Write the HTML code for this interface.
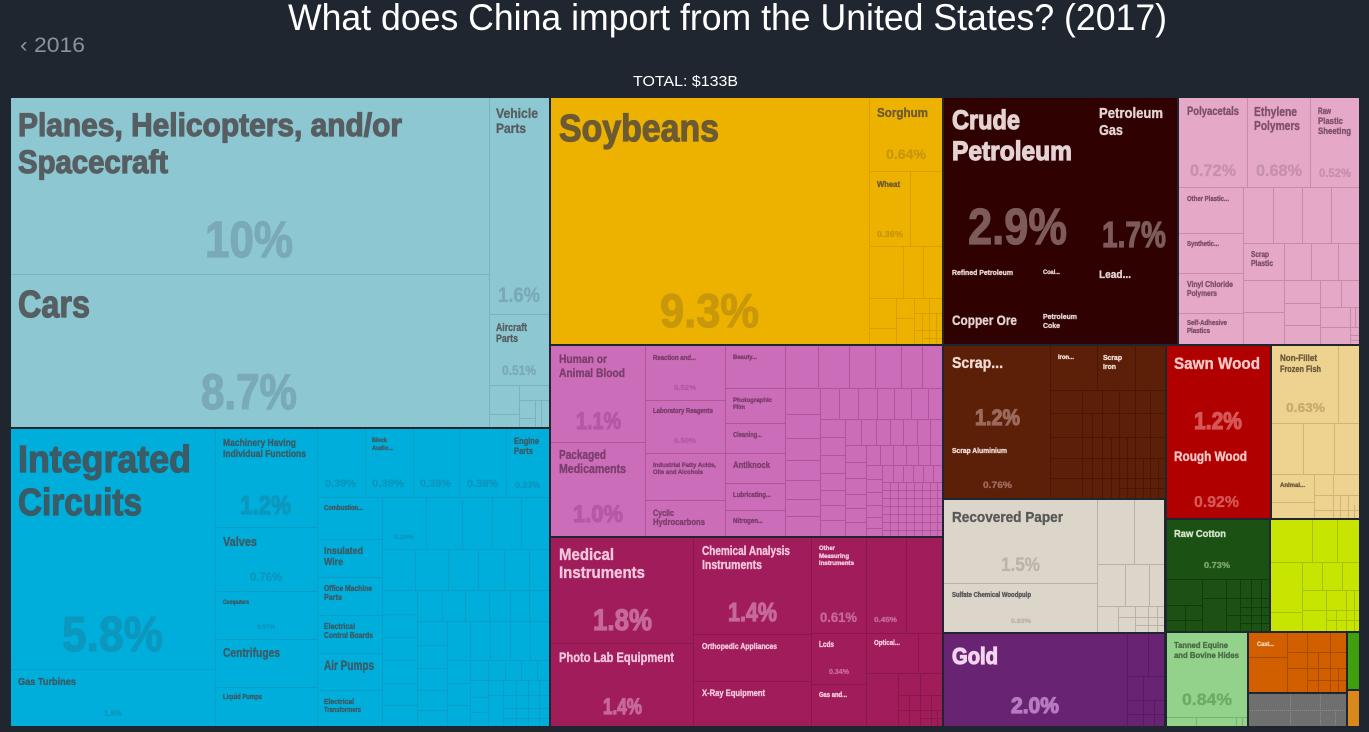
<!DOCTYPE html>
<html><head><meta charset="utf-8"><style>
html,body{margin:0;padding:0;background:#1f2630;width:1369px;height:732px;overflow:hidden}
svg{display:block}
.t{font-family:"Liberation Sans",sans-serif}
.b{font-family:"Liberation Sans",sans-serif;font-weight:700}
.k text{stroke-width:0.35}
.k text.L{stroke-width:1.2}
</style></head><body>
<svg width="1369" height="732" viewBox="0 0 1369 732" xmlns="http://www.w3.org/2000/svg">
<rect width="1369" height="732" fill="#1f2630"/>
<text class="t" x="288" y="30" font-size="37" fill="#ffffff" textLength="879" lengthAdjust="spacingAndGlyphs">What does China import from the United States? (2017)</text>
<text class="t" x="20" y="52" font-size="21" fill="#8b929a" textLength="65" lengthAdjust="spacingAndGlyphs">‹ 2016</text>
<text class="t" x="633" y="86" font-size="15" fill="#ffffff" textLength="105" lengthAdjust="spacingAndGlyphs">TOTAL: $133B</text>

<!-- fills -->
<rect x="10" y="97" width="540" height="331" fill="#8dc8d2"/>
<rect x="10" y="428" width="540" height="299" fill="#00aedb"/>
<rect x="550" y="97" width="393" height="248" fill="#edb200"/>
<rect x="943" y="97" width="235" height="248" fill="#2f0101"/>
<rect x="1179" y="97" width="181" height="248" fill="#e5a8c6"/>
<rect x="550" y="345" width="393" height="192" fill="#cc6db9"/>
<rect x="550" y="537" width="393" height="190" fill="#a01c5a"/>
<rect x="943" y="345" width="223" height="154" fill="#5c1f08"/>
<rect x="944" y="500" width="221" height="133" fill="#dcd5ca"/>
<rect x="944" y="633" width="221" height="94" fill="#692373"/>
<rect x="1166" y="345" width="105" height="174" fill="#b00000"/>
<rect x="1272" y="345" width="88" height="174" fill="#eed390"/>
<rect x="1166" y="519" width="104" height="113" fill="#1b5214"/>
<rect x="1270" y="519" width="90" height="113" fill="#c8e502"/>
<rect x="1166" y="632" width="82" height="95" fill="#93d28a"/>
<rect x="1248" y="632" width="99" height="61" fill="#d15f00"/>
<rect x="1248" y="693" width="99" height="34" fill="#6f6f6f"/>
<rect x="1347" y="632" width="13" height="58" fill="#3fa00f"/>
<rect x="1347" y="690" width="13" height="37" fill="#d9891c"/>

<!-- internal lines -->
<g fill="none" stroke-width="1">
<path stroke="#79b3be" d="M10 274.5H489M489.5 97V428M489 314.5H550M489 385.5H550M519.5 385V428M489 414.5H519M519 400.5H550M535.5 400V428M519 418.5H535M541.5 400V428"/>
<path stroke="#0d9dc6" d="M215.5 428V727M10 669.5H215M317.5 428V727M215 527.5H317M215 591.5H317M215 639.5H317M215 687.5H317M317 497.5H550M365.5 428V497M413.5 428V497M459.5 428V497M506.5 428V497M382.5 497V727M317 539.5H382M317 577.5H382M317 615.5H382M317 653.5H382M317 690.5H382M382 549.5H550M426.5 497V549M462.5 497V549M492.5 497V549M521.5 497V549M382 590.5H550M415.5 549V590M448.5 549V590M478.5 549V590M504.5 549V590M529.5 549V590M417.5 590V727M382 614.5H417M382 637.5H417M382 660.5H417M382 683.5H417M382 705.5H417M417 621.5H550M442.5 590V621M465.5 590V621M489.5 590V621M510.5 590V621M529.5 590V621M447.5 621V727M417 645.5H447M417 668.5H447M417 690.5H447M417 710.5H447M447 660.5H550M470.5 621V660M490.5 621V660M510.5 621V660M530.5 621V660M470.5 660V727M447 683.5H470M447 705.5H470M470 680.5H550M488.5 660V680M505.5 660V680M521.5 660V680M537.5 660V680M488.5 680V727M470 697.5H488M470 712.5H488M488 695.5H550M503.5 680V727M516.5 680V727M528.5 680V727M539.5 680V727M503 708.5H550M503 718.5H550"/>
<path stroke="#d6a100" d="M869.5 97V345M869 171.5H943M910.5 171V246M869 246.5H943M903.5 246V298M923.5 246V298M869 298.5H943M896.5 298V345M869 328.5H896M914.5 298V345M896 318.5H914M929.5 298V345M914 313.5H943M914 330.5H943M922.5 313V345M936.5 313V345M922 338.5H943"/>
<path stroke="#c88ca9" d="M1179 187.5H1360M1247.5 97V187M1310.5 97V187M1243.5 187V345M1179 233.5H1243M1179 273.5H1243M1179 313.5H1243M1243 243.5H1360M1273.5 187V243M1302.5 187V243M1331.5 187V243M1284.5 243V345M1243 280.5H1284M1243 312.5H1284M1284 280.5H1360M1311.5 243V280M1338.5 243V280M1320.5 280V345M1284 303.5H1320M1284 325.5H1320M1341.5 280V307M1320 307.5H1360M1350.5 307V345M1320 327.5H1360M1350 335.5H1360M1350 340.5H1360M1355.5 307V327"/>
<path stroke="#b0569d" d="M645.5 345V537M550 442.5H645M725.5 345V537M645 400.5H725M645 453.5H725M645 500.5H725M785.5 345V537M725 388.5H785M725 423.5H785M725 453.5H785M725 483.5H785M725 510.5H785M785 388.5H943M818.5 345V388M849.5 345V388M875.5 345V388M901.5 345V388M922.5 345V388M820.5 388V537M785 414.5H820M785 438.5H820M785 460.5H820M785 480.5H820M785 499.5H820M785 516.5H820M820 419.5H943M839.5 388V419M858.5 388V419M877.5 388V419M894.5 388V419M911.5 388V419M928.5 388V419M845.5 419V537M820 437.5H845M820 455.5H845M820 473.5H845M820 490.5H845M820 505.5H845M820 520.5H845M845 445.5H943M861.5 419V445M876.5 419V445M890.5 419V445M903.5 419V445M917.5 419V445M930.5 419V445M866.5 445V537M845 462.5H866M845 478.5H866M845 494.5H866M845 508.5H866M845 522.5H866M866 465.5H943M880.5 445V465M893.5 445V465M906.5 445V465M918.5 445V465M930.5 445V465M882.5 465V537M866 479.5H882M866 492.5H882M866 505.5H882M866 517.5H882M866 528.5H882M882 482.5H943M893.5 465V482M903.5 465V482M913.5 465V482M923.5 465V482M933.5 465V482M890.5 482V537M898.5 482V537M906.5 482V537M914.5 482V537M922.5 482V537M930.5 482V537M937.5 482V537M882 490.5H943M882 498.5H943M882 506.5H943M882 514.5H943M882 522.5H943M882 530.5H943"/>
<path stroke="#881848" d="M693.5 537V727M550 643.5H693M693 634.5H811M693 681.5H811M811.5 537V727M866.5 537V727M906.5 537V633M811 633.5H943M811 684.5H866M918.5 633V673M866 673.5H943M898.5 673V727M920.5 673V727M898 695.5H943M898 710.5H943M931.5 695V727M909.5 695V727M920 718.5H943M937.5 710V727"/>
<path stroke="#4a1605" d="M1050.5 345V498M1050 390.5H1166M1097.5 345V390M1135.5 345V390M1050 413.5H1166M1050 437.5H1166M1050 458.5H1166M1050 478.5H1166M1082.5 390V498M1102.5 390V498M1119.5 390V498M1135.5 390V498M1150.5 390V498M1092.5 413V498M1111.5 437V498M1127.5 437V498M1143.5 458V498M1158.5 458V498M1119 488.5H1166"/>
<path stroke="#bab2a6" d="M1097.5 500V633M944 583.5H1097M1097 564.5H1165M1134.5 500V564M1125.5 564V606M1149.5 564V606M1097 606.5H1165M1118.5 606V633M1135.5 606V633M1148.5 606V633M1157.5 606V633M1118 617.5H1165M1135 625.5H1165"/>
<path stroke="#581a62" d="M1127.5 633V727M1127 676.5H1165M1148.5 633V676M1127 700.5H1165M1143.5 676V727M1154.5 700V727M1127 714.5H1165"/>
<path stroke="#d2b576" d="M1338.5 345V423M1272 423.5H1360M1303.5 423V474M1334.5 423V474M1272 474.5H1360M1314.5 474V519M1272 502.5H1314M1314 495.5H1360M1333.5 474V519M1348.5 495V519M1314 510.5H1360M1340.5 495V519M1354.5 505V519"/>
<path stroke="#0f3d09" d="M1166 579.5H1270M1202.5 579V632M1226.5 579V632M1166 605.5H1202M1202 598.5H1270M1240.5 579V632M1251.5 579V632M1261.5 579V632M1226 615.5H1270M1240 607.5H1270M1240 623.5H1270M1166 620.5H1202M1185.5 605V632"/>
<path stroke="#a6c200" d="M1312.5 519V562M1337.5 519V562M1270 562.5H1360M1302.5 562V632M1270 612.5H1302M1322.5 562V590M1342.5 562V590M1302 590.5H1360M1326.5 590V632M1346.5 590V632M1302 610.5H1360M1326 620.5H1360M1336.5 610V632M1354.5 590V632"/>
<path stroke="#76b56d" d="M1166 717.5H1248M1196.5 717V727M1236.5 717V727M1242.5 717V727"/>
<path stroke="#a84b00" d="M1287.5 632V693M1248 657.5H1287M1307.5 632V693M1330.5 632V693M1287 652.5H1347M1287 668.5H1347M1307 680.5H1347M1318.5 652V693M1338.5 668V693"/>
<path stroke="#8c8c8c" stroke-dasharray="1 1" d="M1290.5 694V727M1320.5 694V727M1248 710.5H1347M1335.5 710V727"/>
</g>

<!-- group borders -->
<g fill="none" stroke="#1f2630" stroke-width="2">
<rect x="10" y="97" width="540" height="331"/>
<rect x="10" y="428" width="540" height="299"/>
<rect x="550" y="97" width="393" height="248"/>
<rect x="943" y="97" width="235" height="248"/>
<rect x="1178" y="97" width="182" height="248"/>
<rect x="550" y="345" width="393" height="192"/>
<rect x="550" y="537" width="393" height="190"/>
<rect x="943" y="345" width="223" height="154"/>
<rect x="943" y="499" width="222" height="134"/>
<rect x="943" y="633" width="222" height="94"/>
<rect x="1166" y="345" width="105" height="174"/>
<rect x="1271" y="345" width="89" height="174"/>
<rect x="1166" y="519" width="104" height="113"/>
<rect x="1270" y="519" width="90" height="113"/>
<rect x="1166" y="632" width="82" height="95"/>
<rect x="1248" y="632" width="99" height="61"/>
<rect x="1248" y="693" width="99" height="34"/>
<rect x="1347" y="632" width="13" height="58"/>
<rect x="1347" y="690" width="13" height="37"/>
</g>

<g class="b k" font-weight="bold">
<!-- transport -->
<g fill="#565e62" stroke="#565e62">
<text class="L" x="18" y="136" font-size="32" textLength="384" lengthAdjust="spacingAndGlyphs">Planes, Helicopters, and/or</text>
<text class="L" x="18" y="173" font-size="32" textLength="150" lengthAdjust="spacingAndGlyphs">Spacecraft</text>
<text class="L" x="18" y="317" font-size="38" textLength="72" lengthAdjust="spacingAndGlyphs">Cars</text>
<text x="496" y="118" font-size="14" textLength="42" lengthAdjust="spacingAndGlyphs">Vehicle</text>
<text x="496" y="133" font-size="14" textLength="30" lengthAdjust="spacingAndGlyphs">Parts</text>
<text x="496" y="331" font-size="11" textLength="31" lengthAdjust="spacingAndGlyphs">Aircraft</text>
<text x="496" y="342" font-size="11" textLength="22" lengthAdjust="spacingAndGlyphs">Parts</text>
</g>
<g fill="#79aab5" stroke="#79aab5">
<text class="L" x="205" y="257" font-size="51" textLength="88" lengthAdjust="spacingAndGlyphs">10%</text>
<text class="L" x="201" y="409" font-size="50" textLength="96" lengthAdjust="spacingAndGlyphs">8.7%</text>
<text x="498" y="302" font-size="21" textLength="42" lengthAdjust="spacingAndGlyphs">1.6%</text>
<text x="502" y="375" font-size="14" textLength="34" lengthAdjust="spacingAndGlyphs">0.51%</text>
</g>
<!-- machinery -->
<g fill="#3b5b66" stroke="#3b5b66">
<text class="L" x="18" y="472" font-size="38" textLength="173" lengthAdjust="spacingAndGlyphs">Integrated</text>
<text class="L" x="18" y="515" font-size="38" textLength="124" lengthAdjust="spacingAndGlyphs">Circuits</text>
<text x="18" y="685" font-size="10" textLength="58" lengthAdjust="spacingAndGlyphs">Gas Turbines</text>
<text x="223" y="446" font-size="10" textLength="73" lengthAdjust="spacingAndGlyphs">Machinery Having</text>
<text x="223" y="457" font-size="10" textLength="83" lengthAdjust="spacingAndGlyphs">Individual Functions</text>
<text x="223" y="546" font-size="12.5" textLength="34" lengthAdjust="spacingAndGlyphs">Valves</text>
<text x="223" y="604" font-size="6" textLength="26" lengthAdjust="spacingAndGlyphs">Computers</text>
<text x="223" y="657" font-size="13" textLength="57" lengthAdjust="spacingAndGlyphs">Centrifuges</text>
<text x="223" y="699" font-size="7" textLength="39" lengthAdjust="spacingAndGlyphs">Liquid Pumps</text>
<text x="372" y="442" font-size="6" textLength="15" lengthAdjust="spacingAndGlyphs">Block</text>
<text x="372" y="450" font-size="6" textLength="21" lengthAdjust="spacingAndGlyphs">Audio...</text>
<text x="514" y="444" font-size="9.5" textLength="25" lengthAdjust="spacingAndGlyphs">Engine</text>
<text x="514" y="454" font-size="9.5" textLength="19" lengthAdjust="spacingAndGlyphs">Parts</text>
<text x="324" y="510" font-size="7" textLength="39" lengthAdjust="spacingAndGlyphs">Combustion...</text>
<text x="324" y="554" font-size="10.5" textLength="39" lengthAdjust="spacingAndGlyphs">Insulated</text>
<text x="324" y="565" font-size="10.5" textLength="19" lengthAdjust="spacingAndGlyphs">Wire</text>
<text x="324" y="591" font-size="8" textLength="48" lengthAdjust="spacingAndGlyphs">Office Machine</text>
<text x="324" y="600" font-size="8" textLength="18" lengthAdjust="spacingAndGlyphs">Parts</text>
<text x="324" y="629" font-size="8" textLength="31" lengthAdjust="spacingAndGlyphs">Electrical</text>
<text x="324" y="638" font-size="8" textLength="49" lengthAdjust="spacingAndGlyphs">Control Boards</text>
<text x="324" y="670" font-size="13.5" textLength="50" lengthAdjust="spacingAndGlyphs">Air Pumps</text>
<text x="324" y="704" font-size="7" textLength="30" lengthAdjust="spacingAndGlyphs">Electrical</text>
<text x="324" y="712" font-size="7" textLength="37" lengthAdjust="spacingAndGlyphs">Transformers</text>
</g>
<g fill="#0c97be" stroke="#0c97be">
<text class="L" x="62" y="651" font-size="49" textLength="101" lengthAdjust="spacingAndGlyphs">5.8%</text>
<text x="104" y="716" font-size="8" textLength="18" lengthAdjust="spacingAndGlyphs">1.6%</text>
<text class="L" x="240" y="514" font-size="26" textLength="51" lengthAdjust="spacingAndGlyphs">1.2%</text>
<text x="250" y="581" font-size="12" textLength="32" lengthAdjust="spacingAndGlyphs">0.76%</text>
<text x="257" y="629" font-size="6" textLength="18" lengthAdjust="spacingAndGlyphs">0.57%</text>
<text x="325" y="487" font-size="11" textLength="31" lengthAdjust="spacingAndGlyphs">0.39%</text>
<text x="372" y="487" font-size="11" textLength="32" lengthAdjust="spacingAndGlyphs">0.39%</text>
<text x="420" y="487" font-size="11" textLength="31" lengthAdjust="spacingAndGlyphs">0.38%</text>
<text x="467" y="487" font-size="11" textLength="31" lengthAdjust="spacingAndGlyphs">0.38%</text>
<text x="515" y="488" font-size="9" textLength="25" lengthAdjust="spacingAndGlyphs">0.33%</text>
<text x="394" y="539" font-size="6" textLength="20" lengthAdjust="spacingAndGlyphs">0.28%</text>
</g>
<!-- soy -->
<g fill="#6c5a33" stroke="#6c5a33">
<text class="L" x="559" y="141" font-size="38" textLength="160" lengthAdjust="spacingAndGlyphs">Soybeans</text>
<text x="877" y="117" font-size="13" textLength="51" lengthAdjust="spacingAndGlyphs">Sorghum</text>
<text x="877" y="187" font-size="8" textLength="23" lengthAdjust="spacingAndGlyphs">Wheat</text>
</g>
<g fill="#c9980a" stroke="#c9980a">
<text class="L" x="660" y="327" font-size="47" textLength="99" lengthAdjust="spacingAndGlyphs">9.3%</text>
<text x="886" y="159" font-size="14" textLength="40" lengthAdjust="spacingAndGlyphs">0.64%</text>
<text x="877" y="237" font-size="8" textLength="26" lengthAdjust="spacingAndGlyphs">0.36%</text>
</g>
<!-- crude -->
<g fill="#e5d2d2" stroke="#e5d2d2">
<text class="L" x="952" y="129" font-size="27" textLength="68" lengthAdjust="spacingAndGlyphs">Crude</text>
<text class="L" x="952" y="160" font-size="27" textLength="120" lengthAdjust="spacingAndGlyphs">Petroleum</text>
<text x="1099" y="118" font-size="15" textLength="64" lengthAdjust="spacingAndGlyphs">Petroleum</text>
<text x="1099" y="135" font-size="15" textLength="24" lengthAdjust="spacingAndGlyphs">Gas</text>
<text x="952" y="275" font-size="7.5" textLength="61" lengthAdjust="spacingAndGlyphs">Refined Petroleum</text>
<text x="1043" y="274" font-size="6.5" textLength="17" lengthAdjust="spacingAndGlyphs">Coal...</text>
<text x="1099" y="278" font-size="11" textLength="32" lengthAdjust="spacingAndGlyphs">Lead...</text>
<text x="952" y="325" font-size="13.5" textLength="65" lengthAdjust="spacingAndGlyphs">Copper Ore</text>
<text x="1043" y="319" font-size="7.5" textLength="34" lengthAdjust="spacingAndGlyphs">Petroleum</text>
<text x="1043" y="328" font-size="7.5" textLength="17" lengthAdjust="spacingAndGlyphs">Coke</text>
</g>
<g fill="#7e5b5b" stroke="#7e5b5b">
<text class="L" x="968" y="244" font-size="51" textLength="99" lengthAdjust="spacingAndGlyphs">2.9%</text>
<text class="L" x="1102" y="247" font-size="36" textLength="64" lengthAdjust="spacingAndGlyphs">1.7%</text>
</g>
<!-- plastics -->
<g fill="#7d5068" stroke="#7d5068">
<text x="1187" y="115" font-size="11.5" textLength="52" lengthAdjust="spacingAndGlyphs">Polyacetals</text>
<text x="1254" y="116" font-size="13" textLength="43" lengthAdjust="spacingAndGlyphs">Ethylene</text>
<text x="1254" y="130" font-size="13" textLength="46" lengthAdjust="spacingAndGlyphs">Polymers</text>
<text x="1318" y="114" font-size="9.5" textLength="13" lengthAdjust="spacingAndGlyphs">Raw</text>
<text x="1318" y="124" font-size="9.5" textLength="25" lengthAdjust="spacingAndGlyphs">Plastic</text>
<text x="1318" y="134" font-size="9.5" textLength="33" lengthAdjust="spacingAndGlyphs">Sheeting</text>
<text x="1187" y="201" font-size="7" textLength="42" lengthAdjust="spacingAndGlyphs">Other Plastic...</text>
<text x="1187" y="246" font-size="7" textLength="32" lengthAdjust="spacingAndGlyphs">Synthetic...</text>
<text x="1251" y="257" font-size="8" textLength="18" lengthAdjust="spacingAndGlyphs">Scrap</text>
<text x="1251" y="266" font-size="8" textLength="22" lengthAdjust="spacingAndGlyphs">Plastic</text>
<text x="1187" y="287" font-size="8" textLength="46" lengthAdjust="spacingAndGlyphs">Vinyl Chloride</text>
<text x="1187" y="296" font-size="8" textLength="30" lengthAdjust="spacingAndGlyphs">Polymers</text>
<text x="1187" y="325" font-size="7" textLength="40" lengthAdjust="spacingAndGlyphs">Self-Adhesive</text>
<text x="1187" y="333" font-size="7" textLength="23" lengthAdjust="spacingAndGlyphs">Plastics</text>
</g>
<g fill="#c790ac" stroke="#c790ac">
<text x="1190" y="176" font-size="17" textLength="46" lengthAdjust="spacingAndGlyphs">0.72%</text>
<text x="1256" y="176" font-size="17" textLength="46" lengthAdjust="spacingAndGlyphs">0.68%</text>
<text x="1319" y="177" font-size="12" textLength="32" lengthAdjust="spacingAndGlyphs">0.52%</text>
</g>
<!-- chemicals -->
<g fill="#7a3e6c" stroke="#7a3e6c">
<text x="559" y="363" font-size="12" textLength="48" lengthAdjust="spacingAndGlyphs">Human or</text>
<text x="559" y="377" font-size="12" textLength="66" lengthAdjust="spacingAndGlyphs">Animal Blood</text>
<text x="559" y="459" font-size="12.5" textLength="47" lengthAdjust="spacingAndGlyphs">Packaged</text>
<text x="559" y="473" font-size="12.5" textLength="67" lengthAdjust="spacingAndGlyphs">Medicaments</text>
<text x="653" y="360" font-size="7" textLength="43" lengthAdjust="spacingAndGlyphs">Reaction and...</text>
<text x="653" y="413" font-size="7" textLength="60" lengthAdjust="spacingAndGlyphs">Laboratory Reagents</text>
<text x="653" y="467" font-size="6.5" textLength="63" lengthAdjust="spacingAndGlyphs">Industrial Fatty Acids,</text>
<text x="653" y="474" font-size="6.5" textLength="50" lengthAdjust="spacingAndGlyphs">Oils and Alcohols</text>
<text x="653" y="516" font-size="9" textLength="21" lengthAdjust="spacingAndGlyphs">Cyclic</text>
<text x="653" y="525" font-size="9" textLength="52" lengthAdjust="spacingAndGlyphs">Hydrocarbons</text>
<text x="733" y="359" font-size="6.5" textLength="24" lengthAdjust="spacingAndGlyphs">Beauty...</text>
<text x="733" y="402" font-size="6.5" textLength="39" lengthAdjust="spacingAndGlyphs">Photographic</text>
<text x="733" y="409" font-size="6.5" textLength="12" lengthAdjust="spacingAndGlyphs">Film</text>
<text x="733" y="437" font-size="7" textLength="29" lengthAdjust="spacingAndGlyphs">Cleaning...</text>
<text x="733" y="468" font-size="9.5" textLength="37" lengthAdjust="spacingAndGlyphs">Antiknock</text>
<text x="733" y="497" font-size="7" textLength="38" lengthAdjust="spacingAndGlyphs">Lubricating...</text>
<text x="733" y="523" font-size="7" textLength="30" lengthAdjust="spacingAndGlyphs">Nitrogen...</text>
</g>
<g fill="#b559a4" stroke="#b559a4">
<text class="L" x="576" y="429" font-size="24" textLength="45" lengthAdjust="spacingAndGlyphs">1.1%</text>
<text class="L" x="573" y="522" font-size="24" textLength="50" lengthAdjust="spacingAndGlyphs">1.0%</text>
<text x="674" y="390" font-size="7.5" textLength="22" lengthAdjust="spacingAndGlyphs">0.52%</text>
<text x="674" y="443" font-size="7.5" textLength="22" lengthAdjust="spacingAndGlyphs">0.50%</text>
</g>
<!-- instruments -->
<g fill="#f2c7dc" stroke="#f2c7dc">
<text x="559" y="560" font-size="17" textLength="55" lengthAdjust="spacingAndGlyphs">Medical</text>
<text x="559" y="578" font-size="17" textLength="86" lengthAdjust="spacingAndGlyphs">Instruments</text>
<text x="559" y="662" font-size="13.5" textLength="115" lengthAdjust="spacingAndGlyphs">Photo Lab Equipment</text>
<text x="702" y="555" font-size="13" textLength="88" lengthAdjust="spacingAndGlyphs">Chemical Analysis</text>
<text x="702" y="569" font-size="13" textLength="60" lengthAdjust="spacingAndGlyphs">Instruments</text>
<text x="819" y="550" font-size="6.5" textLength="16" lengthAdjust="spacingAndGlyphs">Other</text>
<text x="819" y="558" font-size="6.5" textLength="30" lengthAdjust="spacingAndGlyphs">Measuring</text>
<text x="819" y="565" font-size="6.5" textLength="35" lengthAdjust="spacingAndGlyphs">Instruments</text>
<text x="702" y="649" font-size="8.5" textLength="75" lengthAdjust="spacingAndGlyphs">Orthopedic Appliances</text>
<text x="702" y="696" font-size="9" textLength="63" lengthAdjust="spacingAndGlyphs">X-Ray Equipment</text>
<text x="819" y="647" font-size="8" textLength="15" lengthAdjust="spacingAndGlyphs">Lcds</text>
<text x="874" y="645" font-size="7" textLength="26" lengthAdjust="spacingAndGlyphs">Optical...</text>
<text x="819" y="697" font-size="7" textLength="28" lengthAdjust="spacingAndGlyphs">Gas and...</text>
</g>
<g fill="#c6689a" stroke="#c6689a">
<text class="L" x="593" y="630" font-size="30" textLength="59" lengthAdjust="spacingAndGlyphs">1.8%</text>
<text class="L" x="603" y="714" font-size="22" textLength="39" lengthAdjust="spacingAndGlyphs">1.4%</text>
<text class="L" x="728" y="621" font-size="26" textLength="49" lengthAdjust="spacingAndGlyphs">1.4%</text>
<text x="820" y="622" font-size="14" textLength="37" lengthAdjust="spacingAndGlyphs">0.61%</text>
<text x="874" y="622" font-size="7.5" textLength="23" lengthAdjust="spacingAndGlyphs">0.45%</text>
<text x="829" y="674" font-size="7" textLength="20" lengthAdjust="spacingAndGlyphs">0.34%</text>
</g>
<!-- metals -->
<g fill="#f0dbd2" stroke="#f0dbd2">
<text x="952" y="368" font-size="16" textLength="51" lengthAdjust="spacingAndGlyphs">Scrap...</text>
<text x="952" y="453" font-size="7.5" textLength="55" lengthAdjust="spacingAndGlyphs">Scrap Aluminium</text>
<text x="1058" y="359" font-size="6" textLength="16" lengthAdjust="spacingAndGlyphs">Iron...</text>
<text x="1103" y="360" font-size="7.5" textLength="19" lengthAdjust="spacingAndGlyphs">Scrap</text>
<text x="1103" y="369" font-size="7.5" textLength="13" lengthAdjust="spacingAndGlyphs">Iron</text>
</g>
<g fill="#9b6a5c" stroke="#9b6a5c">
<text class="L" x="975" y="425" font-size="22" textLength="45" lengthAdjust="spacingAndGlyphs">1.2%</text>
<text x="983" y="488" font-size="9" textLength="29" lengthAdjust="spacingAndGlyphs">0.76%</text>
</g>
<!-- paper -->
<g fill="#595959" stroke="#595959">
<text x="952" y="522" font-size="15" textLength="111" lengthAdjust="spacingAndGlyphs">Recovered Paper</text>
<text x="952" y="597" font-size="7" textLength="79" lengthAdjust="spacingAndGlyphs">Sulfate Chemical Woodpulp</text>
</g>
<g fill="#bab4aa" stroke="#bab4aa">
<text x="1001" y="571" font-size="19" textLength="39" lengthAdjust="spacingAndGlyphs">1.5%</text>
<text x="1011" y="623" font-size="6.5" textLength="20" lengthAdjust="spacingAndGlyphs">0.93%</text>
</g>
<!-- gold -->
<text class="L" x="952" y="664" font-size="23" fill="#f3d5f0" stroke="#f3d5f0" textLength="46" lengthAdjust="spacingAndGlyphs">Gold</text>
<text class="L" x="1011" y="713" font-size="22" fill="#b77bc0" stroke="#b77bc0" textLength="48" lengthAdjust="spacingAndGlyphs">2.0%</text>
<!-- wood -->
<g fill="#f6c7c7" stroke="#f6c7c7">
<text x="1174" y="369" font-size="17" textLength="86" lengthAdjust="spacingAndGlyphs">Sawn Wood</text>
<text x="1174" y="461" font-size="14" textLength="73" lengthAdjust="spacingAndGlyphs">Rough Wood</text>
</g>
<g fill="#d65656" stroke="#d65656">
<text class="L" x="1194" y="429" font-size="24" textLength="48" lengthAdjust="spacingAndGlyphs">1.2%</text>
<text x="1194" y="507" font-size="16" textLength="45" lengthAdjust="spacingAndGlyphs">0.92%</text>
</g>
<!-- fish -->
<g fill="#6d5a3d" stroke="#6d5a3d">
<text x="1280" y="361" font-size="9" textLength="37" lengthAdjust="spacingAndGlyphs">Non-Fillet</text>
<text x="1280" y="372" font-size="9" textLength="41" lengthAdjust="spacingAndGlyphs">Frozen Fish</text>
<text x="1280" y="487" font-size="6.5" textLength="25" lengthAdjust="spacingAndGlyphs">Animal...</text>
</g>
<text x="1286" y="412" font-size="13" fill="#c5ac6e" stroke="#c5ac6e" textLength="39" lengthAdjust="spacingAndGlyphs">0.63%</text>
<!-- cotton -->
<text x="1174" y="537" font-size="10.5" fill="#d5e4cc" stroke="#d5e4cc" textLength="52" lengthAdjust="spacingAndGlyphs">Raw Cotton</text>
<text x="1204" y="568" font-size="8.5" fill="#79a46b" stroke="#79a46b" textLength="26" lengthAdjust="spacingAndGlyphs">0.73%</text>
<!-- hides -->
<g fill="#4b6b46" stroke="#4b6b46">
<text x="1174" y="648" font-size="8.5" textLength="54" lengthAdjust="spacingAndGlyphs">Tanned Equine</text>
<text x="1174" y="658" font-size="8.5" textLength="65" lengthAdjust="spacingAndGlyphs">and Bovine Hides</text>
</g>
<text x="1182" y="705" font-size="17" fill="#6daa64" stroke="#6daa64" textLength="50" lengthAdjust="spacingAndGlyphs">0.84%</text>
<text x="1257" y="646" font-size="6" fill="#f3d0b0" stroke="#f3d0b0" textLength="17" lengthAdjust="spacingAndGlyphs">Cast...</text>
</g>
</svg>
</body></html>
